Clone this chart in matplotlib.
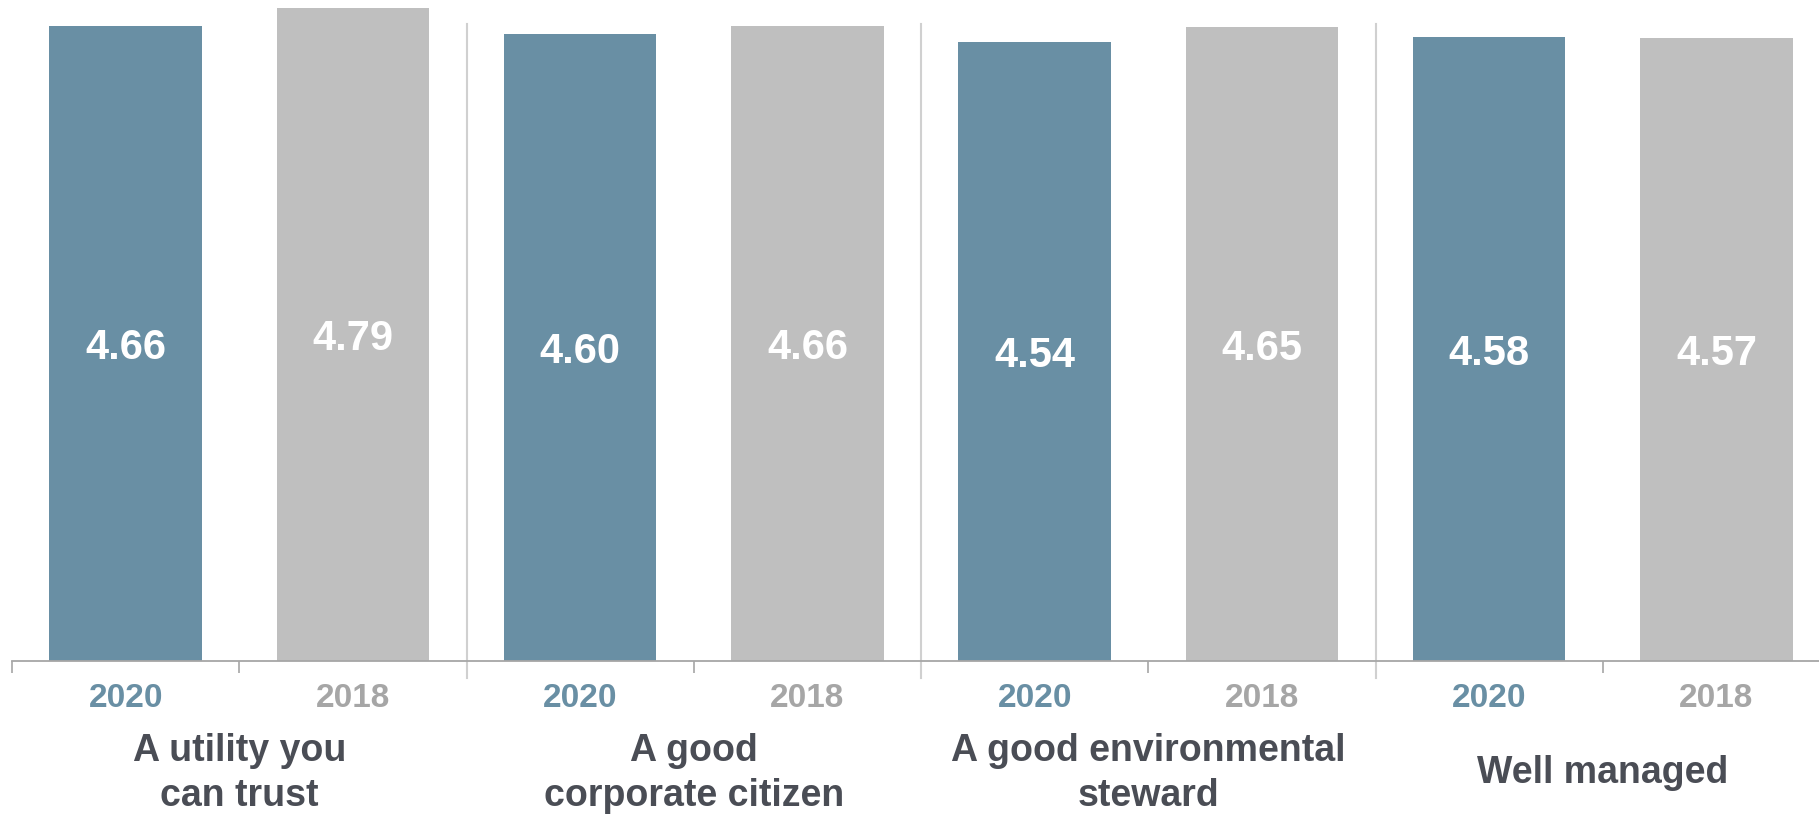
import numpy as np
import matplotlib
matplotlib.use("Agg")
import matplotlib.pyplot as plt

plt.rcParams['font.family'] = ['Liberation Sans', 'DejaVu Sans']

categories = ['A utility you\ncan trust', 'A good\ncorporate citizen',
              'A good environmental\nsteward', 'Well managed']
years = ['2020', '2018']
scores_2020 = [4.66, 4.60, 4.54, 4.58]
scores_2018 = [4.79, 4.66, 4.65, 4.57]

blue = '#698fa4'
grey = '#bfbfbf'
year_colors = ['#698fa4', '#a6a6a6']
label_color = '#4a4d55'

fig = plt.figure(figsize=(18.19, 8.18), dpi=100)
ax = fig.add_axes([12 / 1819, 157 / 818, 1818 / 1819, 661 / 818])

n = len(categories)
x20 = np.arange(n) * 2 + 0.5
x18 = np.arange(n) * 2 + 1.5
bw = 0.67

ax.bar(x20, scores_2020, width=bw, color=blue)
ax.bar(x18, scores_2018, width=bw, color=grey)

for xs, vals in ((x20, scores_2020), (x18, scores_2018)):
    for x, v in zip(xs, vals):
        ax.text(x, v / 2 - 0.035, '%.2f' % v, ha='center', va='center', color='white',
                fontsize=30, fontweight='bold')

ax.set_xlim(0, 2 * n)
ax.set_ylim(0, 4.85)

for s in ['top', 'right', 'left']:
    ax.spines[s].set_visible(False)
ax.spines['bottom'].set_color('#a6a6a6')
ax.spines['bottom'].set_linewidth(1.3)
ax.set_yticks([])
ax.set_xticks(np.arange(2 * n + 1))
ax.set_xticklabels([])
ax.tick_params(axis='x', length=8.6, width=1.2, color='#a6a6a6')

# group separators
for g in range(1, n):
    ax.axvline(2 * g, ymin=-0.026, ymax=0.964, color='#d0d0d0', lw=1.5, clip_on=False)

trans = ax.get_xaxis_transform()
for i in range(n):
    for j, xs in enumerate((x20, x18)):
        ax.text(xs[i], -0.056, years[j], transform=trans, ha='center', va='center',
                color=year_colors[j], fontsize=24, fontweight='bold')
    ax.text(2 * i + 1, -0.17, categories[i], transform=trans, ha='center', va='center',
            color=label_color, fontsize=27, fontweight='bold', linespacing=1.32)

fig.savefig('out.png', dpi=100)
